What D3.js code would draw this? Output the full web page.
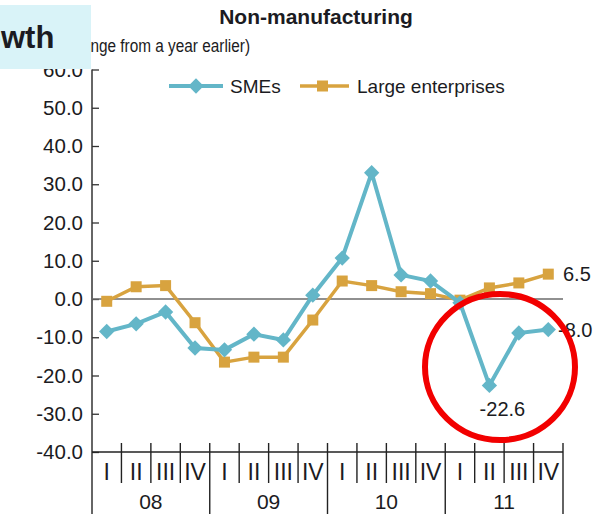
<!DOCTYPE html>
<html>
<head>
<meta charset="utf-8">
<script src="https://cdn.jsdelivr.net/npm/d3@7"></script>
<style>
  body { margin: 0; background: #fff; }
  svg { display: block; }
  text { font-family: "Liberation Sans", Arial, Helvetica, sans-serif; fill: #1b1b22; }
</style>
</head>
<body>
<div id="chart"></div>
<script>
const width = 602;
const height = 514;

// data
const years = ["08", "09", "10", "11"];
const quarters = ["I", "II", "III", "IV"];
const periods = years.flatMap(y => quarters.map(q => y + "-" + q));
const smes = [-8.5, -6.5, -3.4, -12.8, -13.3, -9.2, -10.7, 1.0, 10.7, 33.0, 6.3, 4.7, -1.0, -22.6, -8.9, -8.0];
const large = [-0.6, 3.2, 3.5, -6.2, -16.5, -15.2, -15.2, -5.5, 4.7, 3.5, 1.9, 1.4, -0.3, 2.9, 4.2, 6.5];
const yTicks = [-40, -30, -20, -10, 0, 10, 20, 30, 40, 50, 60];

const tealColor = "#63b6c8";
const goldColor = "#d8a33f";

const svg = d3.select("#chart").append("svg")
  .attr("width", width)
  .attr("height", height);

const x = d3.scaleBand().domain(periods).range([92, 563]);
const y = d3.scaleLinear().domain([-40, 60]).range([452, 69.5]);
const cx = d => x(d) + x.bandwidth() / 2;

// title + subtitle
svg.append("text")
  .attr("x", 316).attr("y", 24)
  .attr("text-anchor", "middle")
  .attr("font-size", 21).attr("font-weight", "bold")
  .text("Non-manufacturing");

svg.append("text")
  .attr("transform", "translate(250,52) scale(0.83,1)")
  .attr("text-anchor", "end")
  .attr("font-size", 18.5)
  .text("(% change from a year earlier)");

// y axis
const yAxis = d3.axisLeft(y)
  .tickValues(yTicks)
  .tickFormat(d => d.toFixed(1))
  .tickSizeInner(-7)
  .tickSizeOuter(0)
  .tickPadding(9);

const gy = svg.append("g")
  .attr("transform", "translate(92,0)")
  .call(yAxis);
gy.select(".domain").remove();
gy.selectAll(".tick line").attr("stroke", "#333").attr("stroke-width", 1.3);
gy.selectAll(".tick text")
  .attr("font-size", 20.5)
  .attr("font-family", "Liberation Sans, Arial, sans-serif")
  .attr("fill", "#1b1b22");

svg.append("line")
  .attr("x1", 92).attr("x2", 92)
  .attr("y1", y(60)).attr("y2", height)
  .attr("stroke", "#333").attr("stroke-width", 1.5);

// zero line
svg.append("line")
  .attr("x1", 92).attr("x2", 563)
  .attr("y1", y(0)).attr("y2", y(0))
  .attr("stroke", "#6b6b6b").attr("stroke-width", 1.5);

// x axis
svg.append("line")
  .attr("x1", 92).attr("x2", 563)
  .attr("y1", y(-40)).attr("y2", y(-40))
  .attr("stroke", "#222").attr("stroke-width", 1.5);

const gx = svg.append("g");
periods.forEach((p, i) => {
  const edge = x(p) + x.bandwidth();
  const yearEnd = (i % 4) === 3;
  gx.append("line")
    .attr("x1", edge).attr("x2", edge)
    .attr("y1", 443).attr("y2", yearEnd ? height : 483)
    .attr("stroke", "#222").attr("stroke-width", 1.4);
  gx.append("text")
    .attr("x", cx(p)).attr("y", 480)
    .attr("text-anchor", "middle")
    .attr("font-size", 23)
    .text(p.split("-")[1]);
});
years.forEach(yr => {
  const a = x(yr + "-I"), b = x(yr + "-IV") + x.bandwidth();
  gx.append("text")
    .attr("x", (a + b) / 2).attr("y", 509)
    .attr("text-anchor", "middle")
    .attr("font-size", 21)
    .text(yr);
});

// lines
const line = d3.line().x(d => cx(d.p)).y(d => y(d.v));
const smesData = periods.map((p, i) => ({ p, v: smes[i] }));
const largeData = periods.map((p, i) => ({ p, v: large[i] }));

// value labels
svg.append("text")
  .attr("x", 563).attr("y", y(6.5) + 7)
  .attr("font-size", 20)
  .text(large[15].toFixed(1));
svg.append("text")
  .attr("x", 558).attr("y", y(-8.0) + 7)
  .attr("font-size", 20)
  .text(smes[15].toFixed(1));
svg.append("text")
  .attr("x", cx("11-II") + 13).attr("y", 416)
  .attr("text-anchor", "middle")
  .attr("font-size", 20)
  .text(smes[13].toFixed(1));

svg.append("path")
  .datum(largeData)
  .attr("fill", "none")
  .attr("stroke", goldColor)
  .attr("stroke-width", 3.5)
  .attr("d", line);
svg.selectAll(".sq")
  .data(largeData)
  .enter().append("rect")
  .attr("x", d => cx(d.p) - 5.5)
  .attr("y", d => y(d.v) - 5.5)
  .attr("width", 11).attr("height", 11)
  .attr("fill", goldColor);

svg.append("path")
  .datum(smesData)
  .attr("fill", "none")
  .attr("stroke", tealColor)
  .attr("stroke-width", 4)
  .attr("d", line);
svg.selectAll(".dm")
  .data(smesData)
  .enter().append("path")
  .attr("d", d3.symbol(d3.symbolDiamond2, 150))
  .attr("transform", d => `translate(${cx(d.p)},${y(d.v)})`)
  .attr("fill", tealColor);

// legend
const lg = svg.append("g");
lg.append("line").attr("x1", 169).attr("x2", 223).attr("y1", 86).attr("y2", 86)
  .attr("stroke", tealColor).attr("stroke-width", 4);
lg.append("path").attr("d", d3.symbol(d3.symbolDiamond2, 150))
  .attr("transform", "translate(196,86)").attr("fill", tealColor);
lg.append("text").attr("x", 230).attr("y", 93).attr("font-size", 19).text("SMEs");
lg.append("line").attr("x1", 300).attr("x2", 349).attr("y1", 86).attr("y2", 86)
  .attr("stroke", goldColor).attr("stroke-width", 3.5);
lg.append("rect").attr("x", 317).attr("y", 80.5).attr("width", 11).attr("height", 11)
  .attr("fill", goldColor);
lg.append("text").attr("x", 357).attr("y", 93).attr("font-size", 19).text("Large enterprises");

// red highlight circle
svg.append("ellipse")
  .attr("cx", 500).attr("cy", 367)
  .attr("rx", 75).attr("ry", 73)
  .attr("fill", "none")
  .attr("stroke", "#f20000")
  .attr("stroke-width", 6);

// header tab on the top left, cut off at the page edge so only "wth" shows
svg.append("rect")
  .attr("x", 0).attr("y", 5)
  .attr("width", 91).attr("height", 64)
  .attr("fill", "#d9f3f8");
const head = svg.append("text")
  .attr("y", 48)
  .attr("font-size", 31).attr("font-weight", "bold")
  .attr("fill", "#111")
  .text("Growth");
// push the hidden part ("Gro") past the left edge
const hidden = head.node().getSubStringLength(0, 3);
head.attr("x", -hidden + 1);
</script>
</body>
</html>
